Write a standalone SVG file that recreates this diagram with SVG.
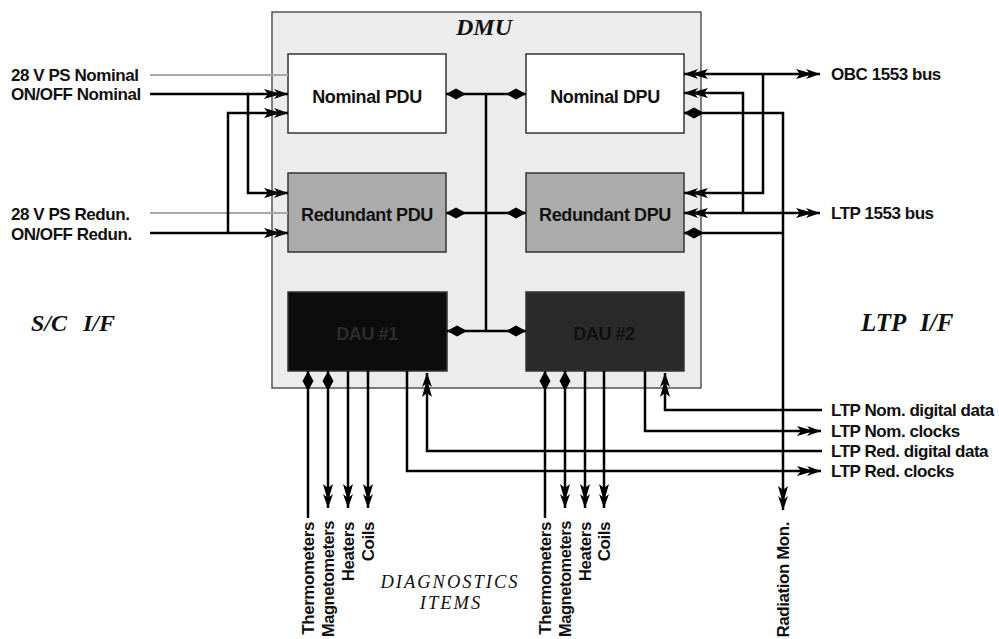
<svg xmlns="http://www.w3.org/2000/svg" width="999" height="639" viewBox="0 0 999 639">
<style>
.lbl{font-family:"Liberation Sans",Arial,sans-serif;font-weight:bold;font-size:17px;letter-spacing:-0.45px;fill:#111}
.box{font-family:"Liberation Sans",Arial,sans-serif;font-weight:bold;font-size:18px;letter-spacing:-0.4px;fill:#111;text-anchor:middle}
.ti{font-family:"Liberation Serif","Times New Roman",serif;font-weight:bold;font-style:italic;fill:#111}
.dg{font-family:"Liberation Serif","Times New Roman",serif;font-style:italic;font-size:18.5px;letter-spacing:2px;fill:#111;text-anchor:middle}
.w{fill:none;stroke:#000;stroke-width:2.5}
.g{fill:none;stroke:#a8a8a8;stroke-width:2}
.a{marker-end:url(#arr)}
.as{marker-start:url(#arr)}
.d{marker-end:url(#dia)}
.ds{marker-start:url(#dia)}
.nb{stroke:#333;stroke-width:1.5}
</style>
<defs>
<marker id="arr" viewBox="-26 -7 28 14" refX="0" refY="0" markerWidth="28" markerHeight="14" markerUnits="userSpaceOnUse" orient="auto-start-reverse">
<path d="M0,0 L-14,-5 L-11,-1.3 L-24,-5 L-20,0 L-24,5 L-11,1.3 L-14,5 Z" fill="#000"/>
</marker>
<marker id="dia" viewBox="-23 -7 25 14" refX="0" refY="0" markerWidth="25" markerHeight="14" markerUnits="userSpaceOnUse" orient="auto-start-reverse">
<path d="M0,0 L-10,-5.5 L-20,0 L-10,5.5 Z" fill="#000"/>
</marker>
</defs>
<rect width="999" height="639" fill="#fff"/>
<g id="dmu">
<rect x="272" y="12" width="429" height="376" fill="#ececec" stroke="#555" stroke-width="1.5"/>
<text class="ti" x="484" y="35" font-size="24" text-anchor="middle">DMU</text>
</g>
<g id="nominal-pdu">
<rect x="288" y="54" width="158" height="79" fill="#fff" class="nb"/>
<text class="box" x="367" y="103">Nominal PDU</text>
</g>
<g id="nominal-dpu">
<rect x="526" y="54" width="158" height="79" fill="#fff" class="nb"/>
<text class="box" x="605" y="103">Nominal DPU</text>
</g>
<g id="redundant-pdu">
<rect x="288" y="173" width="158" height="79" fill="#ababab" class="nb"/>
<text class="box" x="367" y="221">Redundant PDU</text>
</g>
<g id="redundant-dpu">
<rect x="526" y="173" width="158" height="79" fill="#ababab" class="nb"/>
<text class="box" x="605" y="221">Redundant DPU</text>
</g>
<g id="dau1">
<rect x="288" y="292" width="159" height="79" fill="#0c0c0c" stroke="#333" stroke-width="1.5"/>
<text class="box" x="367" y="340" style="fill:#2c2c2c">DAU #1</text>
</g>
<g id="dau2">
<rect x="526" y="292" width="158" height="79" fill="#2a2a2a" stroke="#333" stroke-width="1.5"/>
<text class="box" x="604" y="340" style="fill:#101010">DAU #2</text>
</g>
<g id="connectors">
<path class="g" d="M150,75 H288"/>
<path class="g" d="M150,213 H288"/>
<path class="w a" d="M150,94 H288"/>
<path class="w a" d="M248,94 V193 H288"/>
<path class="w a" d="M228,233 V113 H288"/>
<path class="w a" d="M150,233 H288"/>
<path class="w ds d" d="M446,94 H526"/>
<path class="w ds d" d="M446,213 H526"/>
<path class="w ds d" d="M447,331 H526"/>
<path class="w" d="M486,94 V331"/>
<path class="w as a" d="M684,74 H820"/>
<path class="w a" d="M763,74 V193 H684"/>
<path class="w as" d="M684,93 H743 V213"/>
<path class="w as a" d="M684,213 H820"/>
<path class="w ds a" d="M684,113 H783 V510"/>
<path class="w ds" d="M684,233 H783"/>
<path class="w ds" d="M308,371 V518"/>
<path class="w ds a" d="M328,371 V508"/>
<path class="w a" d="M348,371 V508"/>
<path class="w a" d="M368,371 V508"/>
<path class="w a" d="M407,371 V471 H821"/>
<path class="w a" d="M822,451 H427 V373"/>
<path class="w ds" d="M545,371 V518"/>
<path class="w ds a" d="M565,371 V508"/>
<path class="w a" d="M585,371 V508"/>
<path class="w a" d="M604,371 V508"/>
<path class="w a" d="M645,371 V431 H821"/>
<path class="w a" d="M822,410 H665 V373"/>
</g>
<g id="labels">
<text class="lbl" x="11" y="81">28 V PS Nominal</text>
<text class="lbl" x="11" y="100">ON/OFF Nominal</text>
<text class="lbl" x="11" y="220">28 V PS Redun.</text>
<text class="lbl" x="11" y="240">ON/OFF Redun.</text>
<text class="lbl" x="831" y="80">OBC 1553 bus</text>
<text class="lbl" x="831" y="219">LTP 1553 bus</text>
<text class="lbl" x="831" y="416">LTP Nom. digital data</text>
<text class="lbl" x="831" y="437">LTP Nom. clocks</text>
<text class="lbl" x="831" y="457">LTP Red. digital data</text>
<text class="lbl" x="831" y="477">LTP Red. clocks</text>
<text class="ti" x="31" y="331" font-size="24">S/C</text>
<text class="ti" x="83" y="331" font-size="24">I/F</text>
<text class="ti" x="861" y="331" font-size="25">LTP</text>
<text class="ti" x="920" y="331" font-size="25">I/F</text>
<text class="dg" x="450" y="588">DIAGNOSTICS</text>
<text class="dg" x="451" y="609">ITEMS</text>
<text class="lbl" text-anchor="end" transform="translate(314,522) rotate(-90)">Thermometers</text>
<text class="lbl" text-anchor="end" transform="translate(334,521) rotate(-90)" textLength="116" lengthAdjust="spacingAndGlyphs">Magnetometers</text>
<text class="lbl" text-anchor="end" transform="translate(354,522) rotate(-90)">Heaters</text>
<text class="lbl" text-anchor="end" transform="translate(374,522) rotate(-90)">Coils</text>
<text class="lbl" text-anchor="end" transform="translate(551,522) rotate(-90)">Thermometers</text>
<text class="lbl" text-anchor="end" transform="translate(571,521) rotate(-90)" textLength="116" lengthAdjust="spacingAndGlyphs">Magnetometers</text>
<text class="lbl" text-anchor="end" transform="translate(591,522) rotate(-90)">Heaters</text>
<text class="lbl" text-anchor="end" transform="translate(610,522) rotate(-90)">Coils</text>
<text class="lbl" text-anchor="end" transform="translate(789,522) rotate(-90)">Radiation Mon.</text>
</g>
</svg>
